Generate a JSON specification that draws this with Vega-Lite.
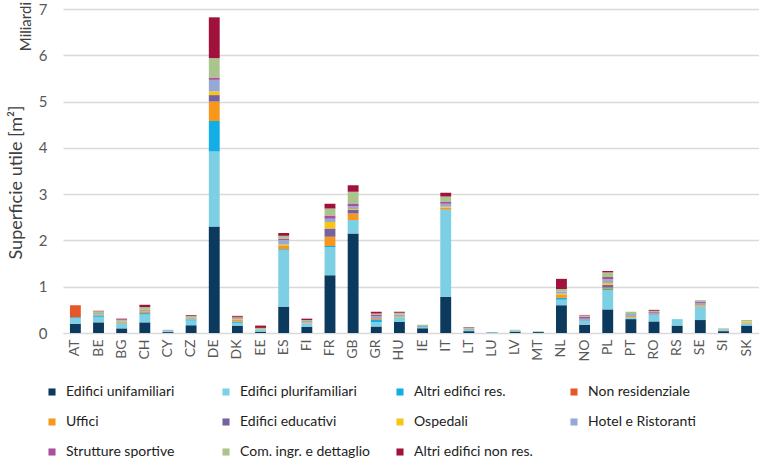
{
  "$schema": "https://vega.github.io/schema/vega-lite/v6.json",
  "width": 696,
  "height": 324,
  "autosize": {"type": "none"},
  "padding": {"left": 63, "top": 9, "right": 0, "bottom": 137},
  "background": "white",
  "title": {"text": "Miliardi", "orient": "left", "anchor": "end", "offset": -27, "fontSize": 15, "fontWeight": "normal", "color": "#404040", "font": "Lato"},
  "config": {"font": "Lato", "view": {"stroke": null}},
  "datasets": {
    "cats": [
      {"k": "u", "name": "Edifici unifamiliari", "i": 0},
      {"k": "p", "name": "Edifici plurifamiliari", "i": 1},
      {"k": "r", "name": "Altri edifici res.", "i": 2},
      {"k": "n", "name": "Non residenziale", "i": 3},
      {"k": "o", "name": "Uffici", "i": 4},
      {"k": "e", "name": "Edifici educativi", "i": 5},
      {"k": "h", "name": "Ospedali", "i": 6},
      {"k": "t", "name": "Hotel e Ristoranti", "i": 7},
      {"k": "s", "name": "Strutture sportive", "i": 8},
      {"k": "g", "name": "Com. ingr. e dettaglio", "i": 9},
      {"k": "x", "name": "Altri edifici non res.", "i": 10}
    ]
  },
  "data": {
    "values": [
      {"c": "AT", "u": 0.2, "p": 0.12, "r": 0.02, "n": 0.26},
      {"c": "BE", "u": 0.23, "p": 0.12, "r": 0.03, "o": 0.02, "t": 0.03, "g": 0.04, "x": 0.01},
      {"c": "BG", "u": 0.1, "p": 0.1, "o": 0.02, "t": 0.03, "g": 0.04, "x": 0.02},
      {"c": "CH", "u": 0.23, "p": 0.17, "r": 0.03, "o": 0.04, "t": 0.03, "g": 0.06, "x": 0.05},
      {"c": "CY", "u": 0.02, "p": 0.02, "t": 0.02, "g": 0.01},
      {"c": "CZ", "u": 0.17, "p": 0.1, "r": 0.02, "o": 0.02, "t": 0.03, "g": 0.03, "x": 0.02},
      {"c": "DE", "u": 2.3, "p": 1.62, "r": 0.66, "o": 0.42, "e": 0.14, "h": 0.08, "t": 0.25, "s": 0.05, "g": 0.42, "x": 0.88},
      {"c": "DK", "u": 0.16, "p": 0.06, "r": 0.03, "o": 0.03, "h": 0.02, "t": 0.02, "s": 0.02, "g": 0.01, "x": 0.02},
      {"c": "EE", "u": 0.03, "p": 0.04, "g": 0.04, "x": 0.05},
      {"c": "ES", "u": 0.57, "p": 1.22, "r": 0.02, "o": 0.07, "h": 0.03, "t": 0.1, "s": 0.03, "g": 0.06, "x": 0.06},
      {"c": "FI", "u": 0.13, "p": 0.08, "o": 0.02, "t": 0.03, "g": 0.02, "x": 0.03},
      {"c": "FR", "u": 1.25, "p": 0.61, "r": 0.02, "o": 0.2, "e": 0.18, "h": 0.14, "t": 0.07, "s": 0.07, "g": 0.15, "x": 0.1},
      {"c": "GB", "u": 2.15, "p": 0.29, "o": 0.14, "e": 0.08, "h": 0.02, "t": 0.06, "s": 0.06, "g": 0.25, "x": 0.14},
      {"c": "GR", "u": 0.14, "p": 0.1, "r": 0.04, "o": 0.02, "t": 0.06, "s": 0.03, "g": 0.03, "x": 0.04},
      {"c": "HU", "u": 0.24, "p": 0.1, "o": 0.02, "t": 0.04, "g": 0.04, "x": 0.02},
      {"c": "IE", "u": 0.1, "p": 0.03, "t": 0.02, "g": 0.03},
      {"c": "IT", "u": 0.78, "p": 1.87, "r": 0.02, "o": 0.04, "h": 0.02, "t": 0.06, "s": 0.04, "g": 0.12, "x": 0.08},
      {"c": "LT", "u": 0.04, "p": 0.04, "s": 0.01, "g": 0.03, "x": 0.01},
      {"c": "LU", "u": 0.01, "p": 0.01},
      {"c": "LV", "u": 0.03, "p": 0.02, "g": 0.02},
      {"c": "MT", "u": 0.02, "p": 0.01, "g": 0.01},
      {"c": "NL", "u": 0.6, "p": 0.12, "r": 0.04, "o": 0.06, "h": 0.03, "t": 0.05, "g": 0.05, "x": 0.22},
      {"c": "NO", "u": 0.18, "p": 0.08, "t": 0.05, "s": 0.04, "g": 0.03, "x": 0.01},
      {"c": "PL", "u": 0.51, "p": 0.42, "r": 0.02, "o": 0.03, "e": 0.06, "h": 0.04, "t": 0.08, "s": 0.05, "g": 0.1, "x": 0.03},
      {"c": "PT", "u": 0.3, "p": 0.04, "o": 0.03, "t": 0.04, "g": 0.05},
      {"c": "RO", "u": 0.25, "p": 0.14, "t": 0.04, "s": 0.02, "g": 0.03, "x": 0.02},
      {"c": "RS", "u": 0.16, "p": 0.14},
      {"c": "SE", "u": 0.28, "p": 0.29, "o": 0.03, "t": 0.05, "s": 0.03, "g": 0.03},
      {"c": "SI", "u": 0.04, "p": 0.02, "t": 0.02, "g": 0.02},
      {"c": "SK", "u": 0.16, "p": 0.05, "o": 0.02, "h": 0.02, "g": 0.03}
    ]
  },
  "transform": [
    {"fold": ["u", "p", "r", "n", "o", "e", "h", "t", "s", "g", "x"], "as": ["k", "v"]},
    {"filter": "isValid(datum.v) && datum.v > 0"},
    {"lookup": "k", "from": {"data": {"name": "cats"}, "key": "k", "fields": ["name", "i"]}}
  ],
  "mark": {"type": "bar"},
  "encoding": {
    "x": {
      "field": "c", "type": "nominal", "sort": null,
      "scale": {"paddingInner": 0.53, "paddingOuter": 0.3},
      "axis": {"title": null, "labelAngle": 270, "labelFontSize": 14, "labelColor": "#595959", "labelPadding": 6, "ticks": false, "domainColor": "#d9d9d9", "domainWidth": 1}
    },
    "y": {
      "field": "v", "type": "quantitative", "stack": "zero",
      "scale": {"domain": [0, 7]},
      "axis": {"title": "Superficie utile [m²]", "titleX": -38, "titleY": 173, "titleFontSize": 18, "titleFontWeight": "normal", "titleColor": "#404040", "values": [0, 1, 2, 3, 4, 5, 6, 7], "labelFontSize": 15, "labelColor": "#595959", "labelPadding": 16, "ticks": false, "domain": false, "gridColor": "#d9d9d9", "gridWidth": 1.5}
    },
    "color": {
      "field": "name", "type": "nominal",
      "scale": {
        "domain": ["Edifici unifamiliari", "Edifici plurifamiliari", "Altri edifici res.", "Non residenziale", "Uffici", "Edifici educativi", "Ospedali", "Hotel e Ristoranti", "Strutture sportive", "Com. ingr. e dettaglio", "Altri edifici non res."],
        "range": ["#0b3a5e", "#7dcfe4", "#14aee6", "#e5582b", "#f7981d", "#76629f", "#f5c518", "#97a9d3", "#a9509a", "#a9c48c", "#a0123b"]
      },
      "legend": {"orient": "none", "legendX": -18, "legendY": 376, "direction": "horizontal", "columns": 4, "gridAlign": "all", "title": null, "symbolType": "square", "symbolSize": 50, "symbolStrokeWidth": 0, "labelFontSize": 14, "labelColor": "#222222", "rowPadding": 16, "columnPadding": 23, "labelOffset": 7, "padding": 0, "labelLimit": 250}
    },
    "order": {"field": "i", "type": "quantitative"}
  }
}
